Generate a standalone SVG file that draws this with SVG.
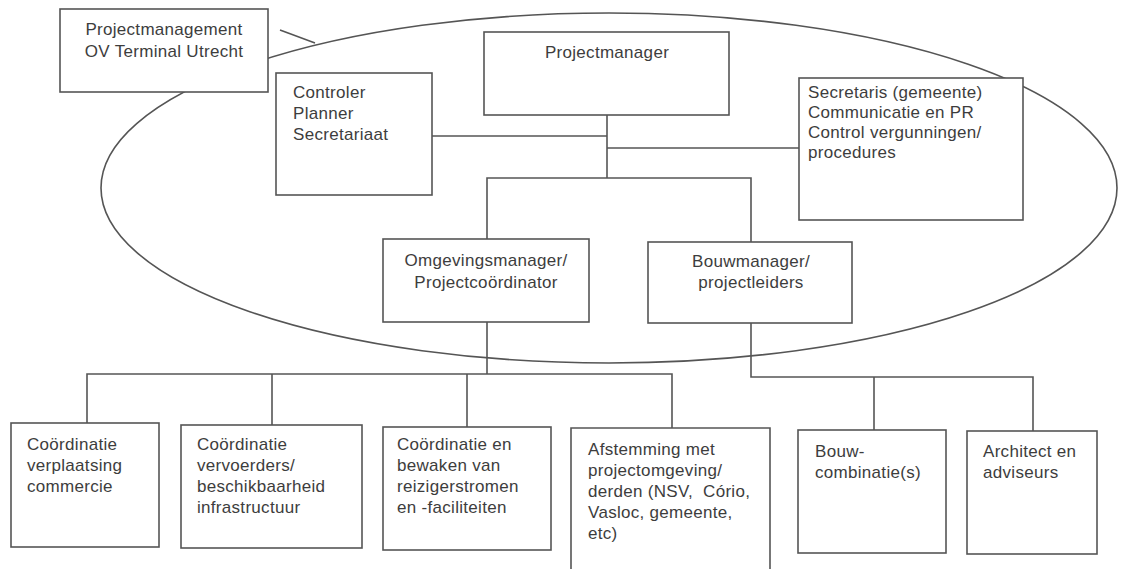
<svg xmlns="http://www.w3.org/2000/svg" width="1125" height="569" viewBox="0 0 1125 569">
<style>
.bx{fill:#fff;stroke:#555;stroke-width:1.6}
.ln{fill:none;stroke:#555;stroke-width:1.6}
text{font-family:"Liberation Sans",Arial,sans-serif;font-size:17px;fill:#3d3d3d;letter-spacing:0.3px}
.c{text-anchor:middle}
</style>
<rect width="1125" height="569" fill="#fff"/>
<ellipse class="ln" cx="609" cy="188" rx="508" ry="175"/>
<g id="connectors" class="ln">
<line x1="280" y1="30" x2="315" y2="43"/>
<polyline points="607,115 607,178"/>
<polyline points="432,136 607,136"/>
<polyline points="607,148 799,148"/>
<polyline points="487,239 487,178 751,178 751,242"/>
<polyline points="487,322 487,374"/>
<polyline points="87,423 87,374 672,374 672,428"/>
<polyline points="272,374 272,425"/>
<polyline points="467,374 467,427"/>
<polyline points="751,323 751,377 1033,377 1033,431"/>
<polyline points="874,377 874,430"/>
</g>
<g id="n-pm-ov"><rect class="bx" x="60" y="9" width="208" height="83"/><text class="c" x="164" y="35">Projectmanagement</text><text class="c" x="164" y="57">OV Terminal Utrecht</text></g>
<g id="n-projectmanager"><rect class="bx" x="484" y="32" width="245" height="83"/><text class="c" x="607" y="58">Projectmanager</text></g>
<g id="n-controler"><rect class="bx" x="276" y="73" width="156" height="122"/><text x="293" y="98">Controler</text><text x="293" y="119">Planner</text><text x="293" y="140">Secretariaat</text></g>
<g id="n-secretaris"><rect class="bx" x="799" y="78" width="224" height="142"/><text x="808" y="98">Secretaris (gemeente)</text><text x="808" y="118">Communicatie en PR</text><text x="808" y="138">Control vergunningen/</text><text x="808" y="158">procedures</text></g>
<g id="n-omgevings"><rect class="bx" x="383" y="239" width="206" height="83"/><text class="c" x="486" y="266">Omgevingsmanager/</text><text class="c" x="486" y="288">Projectcoördinator</text></g>
<g id="n-bouwmanager"><rect class="bx" x="648" y="242" width="204" height="81"/><text class="c" x="751" y="267">Bouwmanager/</text><text class="c" x="751" y="288">projectleiders</text></g>
<g id="n-a"><rect class="bx" x="11" y="423" width="148" height="124"/><text x="27" y="450">Coördinatie</text><text x="27" y="471">verplaatsing</text><text x="27" y="492">commercie</text></g>
<g id="n-b"><rect class="bx" x="181" y="425" width="181" height="123"/><text x="197" y="450">Coördinatie</text><text x="197" y="471">vervoerders/</text><text x="197" y="492">beschikbaarheid</text><text x="197" y="513">infrastructuur</text></g>
<g id="n-c"><rect class="bx" x="383" y="427" width="168" height="123"/><text x="397" y="450">Coördinatie en</text><text x="397" y="471">bewaken van</text><text x="397" y="492">reizigerstromen</text><text x="397" y="513">en -faciliteiten</text></g>
<g id="n-d"><polyline class="bx" points="571,570 571,428 770,428 770,570"/><text x="588" y="455">Afstemming met</text><text x="588" y="476">projectomgeving/</text><text x="588" y="497">derden (NSV,&#160; Cório,</text><text x="588" y="518">Vasloc, gemeente,</text><text x="588" y="539">etc)</text></g>
<g id="n-e"><rect class="bx" x="798" y="430" width="148" height="123"/><text x="815" y="457">Bouw-</text><text x="815" y="478">combinatie(s)</text></g>
<g id="n-f"><rect class="bx" x="967" y="431" width="130" height="123"/><text x="983" y="457">Architect en</text><text x="983" y="478">adviseurs</text></g>
</svg>
